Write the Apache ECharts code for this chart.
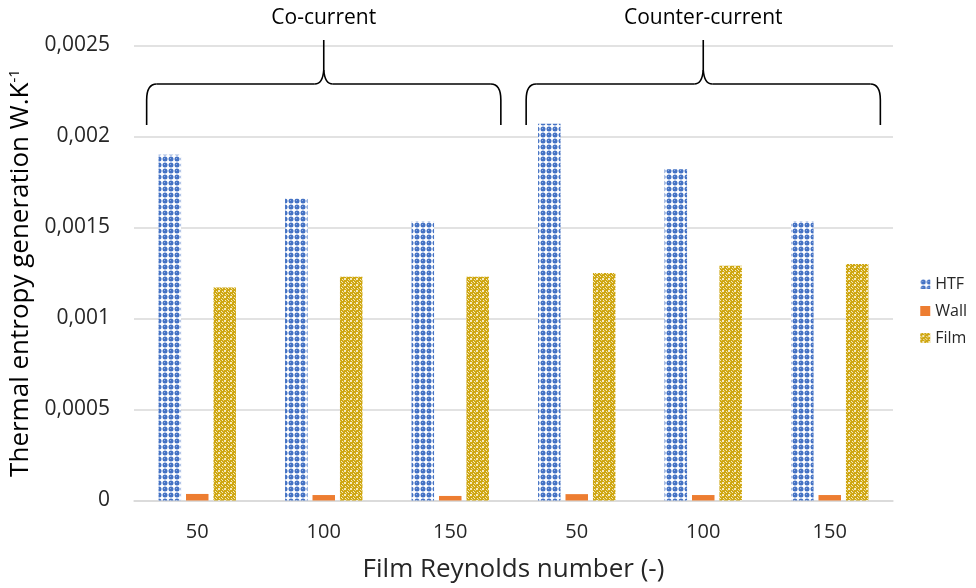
<!DOCTYPE html>
<html>
<head>
<meta charset="utf-8">
<script src="https://cdn.jsdelivr.net/npm/echarts@6/dist/echarts.min.js"></script>
<style>html,body{margin:0;padding:0;background:#fff}#c{width:976px;height:588px}</style>
</head>
<body>
<div id="c"></div>
<script>
const categories = ['50', '100', '150', '50', '100', '150'];
const htf = [0.00190, 0.00166, 0.001535, 0.00207, 0.00182, 0.001535];
const wall = [0.000036, 0.00003, 0.000025, 0.000035, 0.00003, 0.00003];
const film = [0.00117, 0.00123, 0.00123, 0.00125, 0.00129, 0.00130];
const yTickLabels = ['0', '0,0005', '0,001', '0,0015', '0,002', '0,0025'];
const groupNames = ['Co-current', 'Counter-current'];

function makeHtfPattern() {
  const c = document.createElement('canvas');
  c.width = 6; c.height = 6;
  const g = c.getContext('2d');
  g.fillStyle = '#ffffff'; g.fillRect(0, 0, 6, 6);
  g.fillStyle = '#4472C4';
  g.beginPath(); g.arc(3, 3, 2.5, 0, Math.PI * 2); g.fill();
  g.fillStyle = '#8eaadf';
  g.fillRect(2, 2, 1, 1);
  return c;
}
function makeFilmPattern() {
  const c = document.createElement('canvas');
  c.width = 6; c.height = 6;
  const g = c.getContext('2d');
  g.imageSmoothingEnabled = false;
  g.fillStyle = '#cfa712'; g.fillRect(0, 0, 6, 6);
  g.fillStyle = '#f6ebc2';
  g.fillRect(2, 2, 2, 2);
  [[0, 0], [0, 3], [3, 0], [5, 5]].forEach(p => g.fillRect(p[0], p[1], 1, 1));
  g.fillStyle = '#e8d27a';
  [[1, 4], [4, 1]].forEach(p => g.fillRect(p[0], p[1], 1, 1));
  return c;
}
const htfColor = { image: makeHtfPattern(), repeat: 'repeat' };
const filmColor = { image: makeFilmPattern(), repeat: 'repeat' };

const FONT = 'Open Sans';
const chart = echarts.init(document.getElementById('c'));
const option = {
  animation: false,
  backgroundColor: '#ffffff',
  textStyle: { fontFamily: FONT },
  grid: { left: 134, right: 83, top: 45.5, bottom: 87.5, containLabel: false, outerBoundsMode: 'none' },
  legend: {
    orient: 'vertical',
    right: 4,
    top: 271,
    itemWidth: 10,
    itemHeight: 10,
    itemGap: 11,
    icon: 'rect',
    textStyle: { fontSize: 16, color: '#262626', fontFamily: FONT },
    data: ['HTF', 'Wall', 'Film']
  },
  xAxis: {
    type: 'category',
    data: categories,
    axisLine: { lineStyle: { color: '#d9d9d9', width: 1.5 } },
    axisTick: { show: false },
    axisLabel: { fontSize: 20, color: '#262626', margin: 22 },
    name: 'Film Reynolds number (-)',
    nameLocation: 'middle',
    nameGap: 56,
    nameTextStyle: { fontSize: 26, color: '#262626' }
  },
  yAxis: {
    type: 'value',
    min: 0,
    max: 0.0025,
    interval: 0.0005,
    axisLine: { show: false },
    axisTick: { show: false },
    splitLine: { lineStyle: { color: '#d9d9d9', width: 1.5 } },
    axisLabel: {
      fontSize: 21, color: '#262626', margin: 24,
      formatter: (v, i) => yTickLabels[i]
    },
    name: 'Thermal entropy generation W.K{sup|-1}',
    nameLocation: 'middle',
    nameGap: 94,
    nameTextStyle: {
      fontSize: 26, color: '#000',
      rich: { sup: { fontSize: 15, verticalAlign: 'top', padding: [0, 0, 12, 0], color: '#000' } }
    }
  },
  series: [
    { name: 'HTF', type: 'bar', data: htf, barWidth: 22.5, barGap: '22%', itemStyle: { color: htfColor } },
    { name: 'Wall', type: 'bar', data: wall, barWidth: 22.5, barGap: '22%', itemStyle: { color: '#ED7D31' } },
    { name: 'Film', type: 'bar', data: film, barWidth: 22.5, barGap: '22%', itemStyle: { color: filmColor } }
  ]
};
chart.setOption(option);

// Brace annotations, positioned from the category axis
const cx = i => chart.convertToPixel({ xAxisIndex: 0 }, i);
const step = cx(1) - cx(0);
const graphics = [];
const ls = { stroke: '#000', lineWidth: 1.6, fill: null };
const yTop = 40, yH = 84, yB = 125;
[[0, 2], [3, 5]].forEach((rng, gi) => {
  const L = cx(rng[0]) - step * 0.4;
  const R = cx(rng[1]) + step * 0.4;
  const M = (cx(rng[0]) + cx(rng[1])) / 2;
  graphics.push({ type: 'bezierCurve', shape: { x1: L, y1: yB - 25, x2: L + 10, y2: yH, cpx1: L, cpy1: yH }, style: ls });
  graphics.push({ type: 'line', shape: { x1: L, y1: yB, x2: L, y2: yB - 25 }, style: ls });
  graphics.push({ type: 'line', shape: { x1: L + 10, y1: yH, x2: M - 9, y2: yH }, style: ls });
  graphics.push({ type: 'bezierCurve', shape: { x1: M - 9, y1: yH, x2: M, y2: yH - 14, cpx1: M - 1, cpy1: yH }, style: ls });
  graphics.push({ type: 'bezierCurve', shape: { x1: M + 9, y1: yH, x2: M, y2: yH - 14, cpx1: M + 1, cpy1: yH }, style: ls });
  graphics.push({ type: 'line', shape: { x1: M, y1: yH - 14, x2: M, y2: yTop }, style: ls });
  graphics.push({ type: 'line', shape: { x1: M + 9, y1: yH, x2: R - 10, y2: yH }, style: ls });
  graphics.push({ type: 'bezierCurve', shape: { x1: R - 10, y1: yH, x2: R, y2: yB - 25, cpx1: R, cpy1: yH }, style: ls });
  graphics.push({ type: 'line', shape: { x1: R, y1: yB - 25, x2: R, y2: yB }, style: ls });
  graphics.push({
    type: 'text',
    x: M, y: 18,
    style: { text: groupNames[gi], fontSize: 21, fontFamily: FONT, fill: '#000', align: 'center', verticalAlign: 'middle' }
  });
});
chart.setOption({ graphic: graphics });
</script>
</body>
</html>
